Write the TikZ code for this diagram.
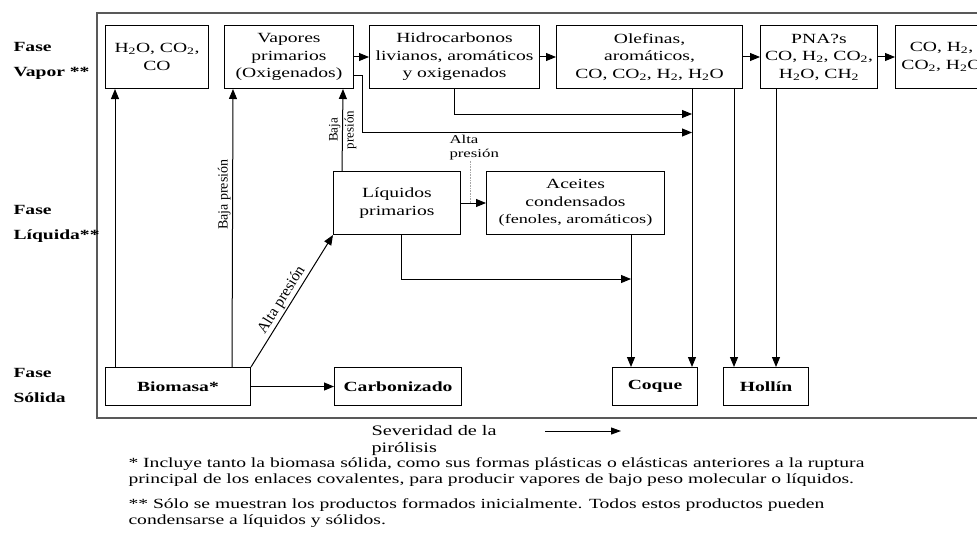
\documentclass[tikz,border=0pt]{standalone}
\usepackage{fontspec}
\setmainfont{Liberation Serif}[FakeStretch=1.4]
\newfontfamily\rotfont{Liberation Serif}
\usetikzlibrary{arrows.meta}
\usetikzlibrary{positioning}
\newcommand{\dos}{\textsubscript{2}}

\begin{document}
\begin{tikzpicture}[x=1pt,y=-1pt,>={Triangle[length=10pt,width=8pt]},line width=1pt]
 \tikzstyle{fase node}=[align=left,inner sep=0,anchor=west,font=\fontsize{14}{25}\selectfont\bfseries]
 \tikzstyle{top node}=[rectangle,draw,inner sep=0,minimum height=63pt,align=center,font=\fontsize{14}{17.5}\selectfont]
 \tikzstyle{mid node}=[top node]
 \tikzstyle{low node}=[rectangle,draw,inner sep=0,minimum height=38pt,align=center,font=\fontsize{14}{17}\selectfont\bfseries]
 \tikzset{
 	rot label/.style={inner sep=1.5pt,font=\rotfont\fontsize{13}{14}\selectfont},
 	small label/.style={align=left,inner sep=0,font=\fontsize{12}{14}\selectfont},
 	note node/.style={align=left,inner sep=0,anchor=north west,font=\fontsize{14}{16.5}\selectfont},
 	frame/.style={draw=black!65,line width=1.5pt}
 }
       \useasboundingbox (0,0) rectangle (977,535);
       \draw[frame] (97,13) rectangle (995,418);

       % fases
       \node[fase node] (fv) at (13,61) {Fase\\Vapor **};
       \node[fase node] (fl) at (13,224) {Fase\\L\'iquida**};
       \node[fase node] (fs) at (13,385) {Fase\\S\'olida};

       % fase vapor
       \node[top node,minimum width=103pt,anchor=north west] (h2o) at (105,25) {H\dos O, CO\dos,\\CO};
       \node[top node,minimum width=129pt] (vap) [right=15pt of h2o] {Vapores\\primarios\\(Oxigenados)};
       \node[top node,minimum width=170pt] (hid) [right=15pt of vap] {Hidrocarbonos\\livianos, arom\'aticos\\y oxigenados};
       \node[top node,minimum width=186pt] (ole) [right=16pt of hid] {Olefinas,\\arom\'aticos,\\CO, CO\dos, H\dos, H\dos O};
       \node[top node,minimum width=117pt] (pna) [right=17pt of ole] {PNA?s\\CO, H\dos, CO\dos,\\H\dos O, CH\dos};
       \node[top node,minimum width=92pt] (gas) [right=17pt of pna] {CO, H\dos,\\CO\dos, H\dos O};

       % fase liquida
       \node[mid node,minimum width=127pt,anchor=north west] (liq) at (333,171) {L\'iquidos\\primarios};
       \node[mid node,minimum width=178pt] (ace) [right=25pt of liq] {Aceites\\condensados\\{\fontsize{13}{17}\selectfont(fenoles, arom\'aticos)}};
       \node[small label,anchor=north west] (alta) at (449,135) {Alta\\presi\'on};

       % fase solida
       \node[low node,minimum width=145pt,anchor=north west] (bio) at (105,367) {Biomasa*};
       \node[low node,minimum width=127pt] (carb) [right=83pt of bio] {Carbonizado};
       \node[low node,minimum width=85pt,anchor=north west] (coq) at (612,367) {Coque};
       \node[low node,minimum width=85pt] (hol) [right=25pt of coq] {Holl\'in};

       \coordinate (olA) at ([xshift=-51pt]ole.south east);
       \coordinate (olB) at ([xshift=-9pt]ole.south east);
       \coordinate (pnA) at ([xshift=16pt]pna.south west);
       \coordinate (acA) at ([xshift=-34pt]ace.south east);
       \coordinate (dot) at ([xshift=9pt]liq.east);

     \path[->] (vap) edge (hid);
     \path[->] (hid) edge (ole);
     \path[->] (ole) edge (pna);
     \path[->] (pna) edge (gas);

     \draw[->] ([xshift=10pt]bio.north west) -- ([xshift=10pt]h2o.south west);
     \draw[->] ([xshift=127pt]bio.north west) -- ([xshift=9pt]vap.south west)
        node[rot label,font=\rotfont\fontsize{14}{15}\selectfont,pos=0.62,rotate=90,anchor=south] {Baja presi\'on};
     \draw[->] ([xshift=9pt]liq.north west) -- ([xshift=119pt]vap.south west)
        node[rot label,midway,rotate=90,anchor=south] {Baja}
        node[rot label,midway,rotate=90,anchor=north] {presi\'on};
     \draw[->] (bio.north east) -- (liq.south west)
        node[rot label,font=\rotfont\fontsize{15.5}{16}\selectfont,pos=0.47,sloped,above] {Alta presi\'on};
     \draw[->] (bio) -- (carb);
     \draw[->] (liq) -- (ace);
     \draw[densely dotted,draw=black!35,line width=0.6pt] (dot |- alta.south) -- (dot);

     \draw[->] ([yshift=-18.5pt]vap.east) -- ++(8,0) -- ++(0,57) coordinate (vb) -- (vb -| olA);
     \draw[->] (hid.south) -- ++(0,25) coordinate (hb) -- (hb -| olA);
     \draw[->] ([xshift=4.5pt]liq.south) -- ++(0,44) coordinate (lb) -- (lb -| acA);

     \draw[->] (olA) -- (olA |- coq.north);
     \draw[->] (acA) -- (acA |- coq.north);
     \draw[->] (olB) -- (olB |- hol.north);
     \draw[->] (pnA) -- (pnA |- hol.north);

     % severidad
     \node[note node,font=\fontsize{14.5}{17}\selectfont] (sev) at (371,425) {Severidad de la\\pir\'olisis};
     \coordinate (sevS) at (545,431);
     \coordinate (sevE) at (621,431);
     \draw[-{Triangle[length=10pt,width=7pt]}] (sevS) -- (sevE);

     \node[note node] (n1) at (128,457) {* Incluye tanto la biomasa s\'olida, como sus formas pl\'asticas o el\'asticas anteriores a la ruptura\\principal de los enlaces covalentes, para producir vapores de bajo peso molecular o l\'iquidos.};
     \node[note node] (n2) at (128,498) {** S\'olo se muestran los productos formados inicialmente. Todos estos productos pueden\\condensarse a l\'iquidos y s\'olidos.};
 \end{tikzpicture}
\end{document}
